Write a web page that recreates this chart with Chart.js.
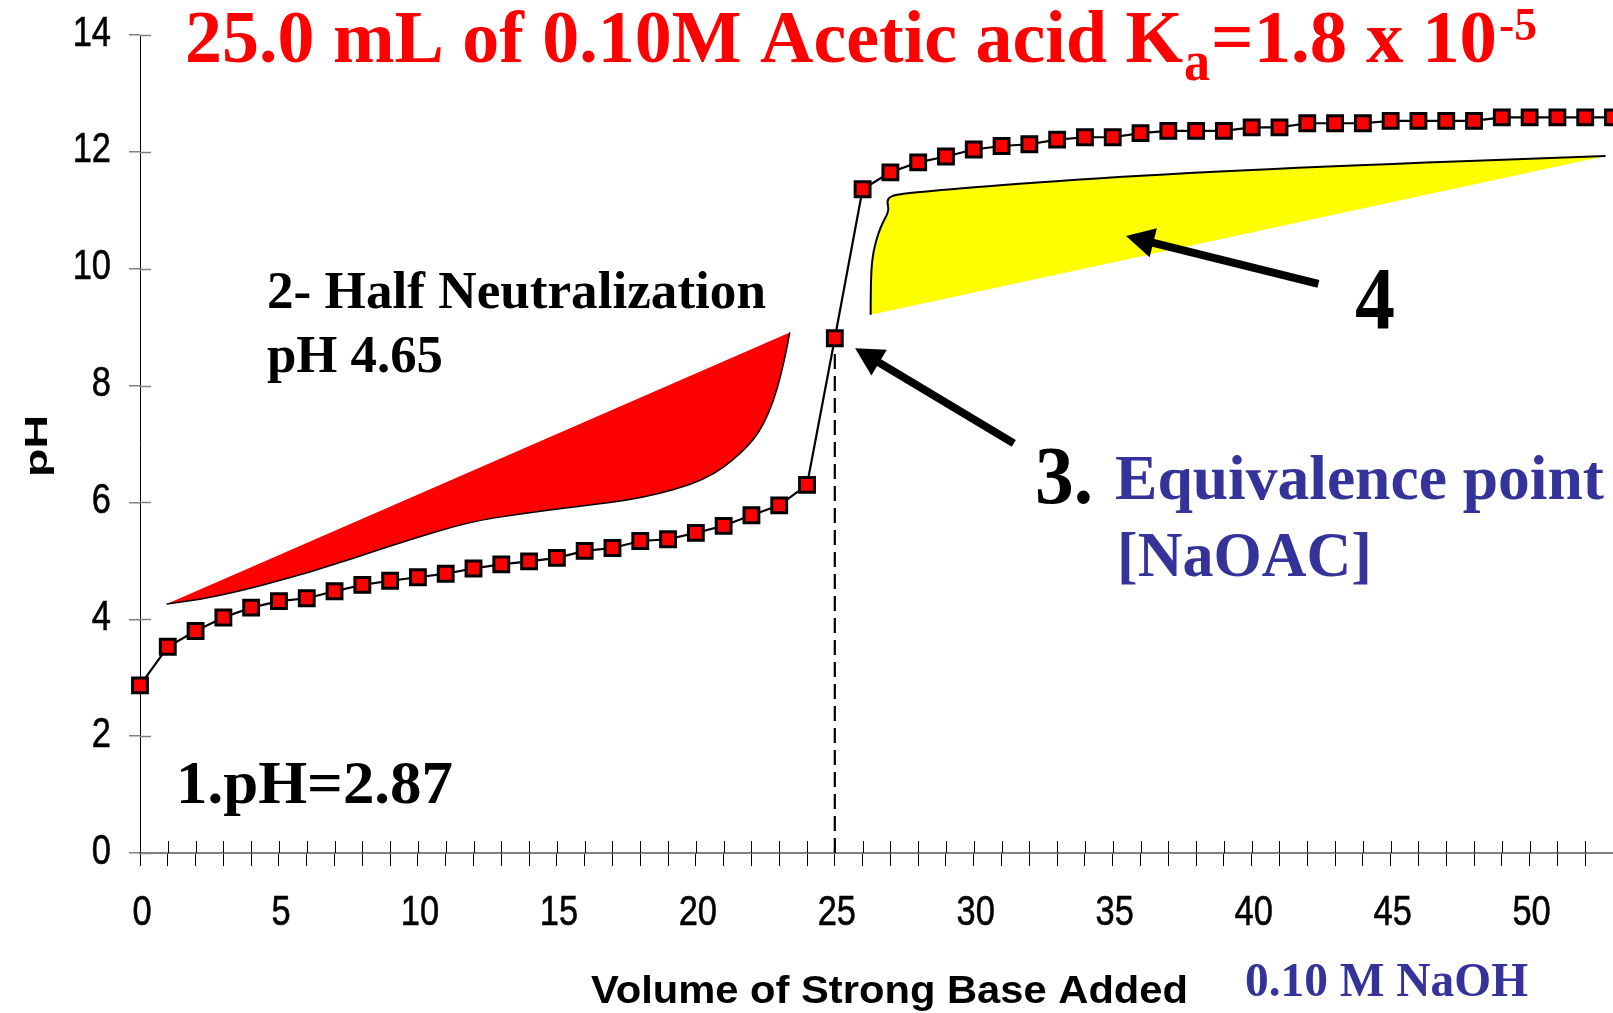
<!DOCTYPE html>
<html>
<head>
<meta charset="utf-8">
<title>Titration of acetic acid with NaOH</title>
<script src="https://cdn.jsdelivr.net/npm/chart.js@4.4.1/dist/chart.umd.min.js"></script>
<style>
  html, body { margin: 0; padding: 0; background: #ffffff; overflow: hidden; }
  canvas { display: block; }
</style>
</head>
<body>
<canvas id="titration" width="1613" height="1013"></canvas>
<script>
// Volume of 0.10 M NaOH added (mL)
const volumes = [0, 1, 2, 3, 4, 5, 6, 7, 8, 9, 10, 11, 12, 13, 14, 15, 16, 17, 18, 19,
  20, 21, 22, 23, 24, 25, 26, 27, 28, 29, 30, 31, 32, 33, 34, 35, 36, 37, 38, 39,
  40, 41, 42, 43, 44, 45, 46, 47, 48, 49, 50, 51, 52, 53];

// Measured pH after each addition
const pH = [2.87, 3.53, 3.80, 4.03, 4.20, 4.31, 4.36, 4.48, 4.59, 4.66,
  4.72, 4.78, 4.87, 4.94, 4.99, 5.05, 5.17, 5.22, 5.34, 5.37,
  5.48, 5.60, 5.78, 5.95, 6.30, 8.81, 11.36, 11.65, 11.82, 11.92,
  12.04, 12.10, 12.13, 12.21, 12.25, 12.25, 12.32, 12.36, 12.36, 12.36,
  12.42, 12.42, 12.49, 12.49, 12.49, 12.53, 12.53, 12.53, 12.53, 12.59,
  12.59, 12.59, 12.59, 12.59];

// Axis tick labels
const xTickLabels = ['0', '5', '10', '15', '20', '25', '30', '35', '40', '45', '50'];
const yTickLabels = ['0', '2', '4', '6', '8', '10', '12', '14'];

// Index of the equivalence point (25.0 mL)
const equivalenceIndex = 25;

const series = volumes.map((v, i) => ({ x: v, y: pH[i] }));
const equivalenceDrop = [
  { x: volumes[equivalenceIndex], y: 0 },
  { x: volumes[equivalenceIndex], y: pH[equivalenceIndex] }
];

// Highlight shapes and pointer arrows, in axis units
const bufferRegionEdge = [[23.38, 8.91], [23.09, 8.15], [22.45, 7.30], [21.65, 6.84], [20.36, 6.38],
  [18.11, 6.07], [15.70, 5.93], [13.78, 5.81], [11.85, 5.67], [9.28, 5.30], [6.07, 4.79],
  [2.85, 4.39], [0.96, 4.26]];
const excessBaseEdge = [[26.29, 9.21], [26.29, 9.76], [26.36, 10.27], [26.64, 10.72], [26.96, 10.99],
  [26.87, 11.15], [26.99, 11.24], [27.49, 11.29], [29.63, 11.38], [34.94, 11.57], [42.39, 11.75],
  [52.73, 11.93]];
const arrowEquivalence = { tail: [31.44, 7.01], tip: [25.73, 8.64] };
const arrowExcess = { tail: [42.40, 9.74], tip: [35.48, 10.56] };

const SERIF = "'Liberation Serif', 'Times New Roman', serif";
const SANS = "'Liberation Sans', Arial, sans-serif";
const BLUE = '#333399';
const RED = '#ff0000';

function fitText(ctx, str, x, y, font, color, width) {
  ctx.save();
  ctx.font = font;
  ctx.fillStyle = color;
  ctx.textAlign = 'left';
  ctx.textBaseline = 'alphabetic';
  const w = ctx.measureText(str).width;
  ctx.translate(x, y);
  ctx.scale(width ? width / w : 1, 1);
  ctx.fillText(str, 0, 0);
  ctx.restore();
}

// condensed tick label, anchored by its alignment point
function tickText(ctx, str, x, y, align) {
  ctx.save();
  ctx.font = `42px ${SANS}`;
  ctx.fillStyle = '#000';
  ctx.strokeStyle = '#000';
  ctx.lineWidth = 0.6;
  ctx.textAlign = align;
  ctx.textBaseline = 'middle';
  ctx.translate(x, y);
  ctx.scale(0.82, 1);
  ctx.fillText(str, 0, 0);
  ctx.strokeText(str, 0, 0);
  ctx.restore();
}

function smoothPath(ctx, pts, startNew) {
  if (startNew) ctx.moveTo(pts[0][0], pts[0][1]); else ctx.lineTo(pts[0][0], pts[0][1]);
  for (let i = 1; i < pts.length - 1; i++) {
    const mx = (pts[i][0] + pts[i + 1][0]) / 2;
    const my = (pts[i][1] + pts[i + 1][1]) / 2;
    ctx.quadraticCurveTo(pts[i][0], pts[i][1], mx, my);
  }
  const last = pts[pts.length - 1];
  ctx.lineTo(last[0], last[1]);
}

function drawArrow(ctx, tail, tip, width, headLen, headHalf) {
  const dx = tip[0] - tail[0], dy = tip[1] - tail[1];
  const len = Math.hypot(dx, dy);
  const ux = dx / len, uy = dy / len;
  const bx = tip[0] - ux * headLen, by = tip[1] - uy * headLen;
  ctx.save();
  ctx.strokeStyle = '#000';
  ctx.fillStyle = '#000';
  ctx.lineWidth = width;
  ctx.lineCap = 'butt';
  ctx.beginPath();
  ctx.moveTo(tail[0], tail[1]);
  ctx.lineTo(bx + ux * 2, by + uy * 2);
  ctx.stroke();
  ctx.beginPath();
  ctx.moveTo(tip[0], tip[1]);
  ctx.lineTo(bx - uy * headHalf, by + ux * headHalf);
  ctx.lineTo(bx + uy * headHalf, by - ux * headHalf);
  ctx.closePath();
  ctx.fill();
  ctx.restore();
}

// Tick marks crossing the axis lines, plus the tick labels
const axisDecor = {
  id: 'axisDecor',
  beforeDatasetsDraw(chart) {
    const { ctx, chartArea, scales: { x, y } } = chart;
    ctx.save();
    ctx.lineWidth = 1;
    ctx.strokeStyle = '#000';
    x.ticks.forEach(t => {
      const px = Math.round(x.getPixelForValue(t.value)) + 0.5;
      ctx.beginPath();
      ctx.moveTo(px, chartArea.bottom);
      ctx.lineTo(px, chartArea.bottom - 12);
      ctx.stroke();
    });
    ctx.strokeStyle = '#808080';
    ctx.lineWidth = 1.5;
    y.ticks.forEach(t => {
      const py = Math.round(y.getPixelForValue(t.value)) + 0.5;
      ctx.beginPath();
      ctx.moveTo(chartArea.left, py);
      ctx.lineTo(chartArea.left + 11, py);
      ctx.stroke();
    });
    ctx.restore();

    xTickLabels.forEach(l => tickText(ctx, l, x.getPixelForValue(Number(l)) + 2, chartArea.bottom + 60, 'center'));
    yTickLabels.forEach(l => tickText(ctx, l, chartArea.left - 29, y.getPixelForValue(Number(l)) - 1, 'right'));
  }
};

// Highlight regions, arrows and labels
const annotations = {
  id: 'annotations',
  afterDatasetsDraw(chart) {
    const { ctx, scales: { x, y } } = chart;
    const P = p => [x.getPixelForValue(p[0]), y.getPixelForValue(p[1])];

    // buffer region wedge
    const red = bufferRegionEdge.map(P);
    ctx.save();
    ctx.beginPath();
    ctx.moveTo(red[red.length - 1][0], red[red.length - 1][1]);
    smoothPath(ctx, red, false);
    ctx.closePath();
    ctx.fillStyle = RED;
    ctx.fill();
    ctx.beginPath();
    smoothPath(ctx, red, true);
    ctx.strokeStyle = '#000';
    ctx.lineWidth = 1.5;
    ctx.stroke();

    // excess base wedge
    const yel = excessBaseEdge.map(P);
    ctx.beginPath();
    smoothPath(ctx, yel, true);
    ctx.lineTo(yel[0][0], yel[0][1]);
    ctx.closePath();
    ctx.fillStyle = '#ffff00';
    ctx.fill();
    ctx.beginPath();
    smoothPath(ctx, yel, true);
    ctx.strokeStyle = '#000';
    ctx.lineWidth = 2;
    ctx.stroke();
    ctx.restore();

    drawArrow(ctx, P(arrowEquivalence.tail), P(arrowEquivalence.tip), 8, 28, 15);
    drawArrow(ctx, P(arrowExcess.tail), P(arrowExcess.tip), 8, 28, 15);

    // title
    fitText(ctx, '25.0 mL of 0.10M Acetic acid K', 185, 62, `bold 73px ${SERIF}`, RED, 998);
    fitText(ctx, 'a', 1184, 80, `bold 56px ${SERIF}`, RED, 26);
    fitText(ctx, '=1.8 x 10', 1211, 62, `bold 73px ${SERIF}`, RED, 286);
    fitText(ctx, '-5', 1499, 40, `bold 47px ${SERIF}`, RED, 38);

    // stage labels
    fitText(ctx, '2- Half Neutralization', 267, 308, `bold 53px ${SERIF}`, '#000', 499);
    fitText(ctx, 'pH 4.65', 267, 372, `bold 53px ${SERIF}`, '#000', 176);
    fitText(ctx, '1.pH=2.87', 176, 803, `bold 62px ${SERIF}`, '#000', 277);
    fitText(ctx, '3.', 1035, 503, `bold 82px ${SERIF}`, '#000', 58);
    fitText(ctx, 'Equivalence point', 1115, 499, `bold 63px ${SERIF}`, BLUE, 489);
    fitText(ctx, '[NaOAC]', 1117, 576, `bold 63px ${SERIF}`, BLUE, 255);
    fitText(ctx, '4', 1355, 328, `bold 88px ${SERIF}`, '#000', 40);

    // axis titles
    fitText(ctx, 'Volume of Strong Base Added', 591, 1003, `bold 39px ${SANS}`, '#000', 597);
    fitText(ctx, '0.10 M NaOH', 1245, 996, `bold 48px ${SERIF}`, BLUE, 283);
    ctx.save();
    ctx.translate(46.5, 477);
    ctx.rotate(-Math.PI / 2);
    fitText(ctx, 'pH', 0, 0, `bold 31px ${SANS}`, '#000', 62);
    ctx.restore();
  }
};

new Chart(document.getElementById('titration'), {
  type: 'line',
  data: {
    datasets: [
      {
        data: series,
        borderColor: '#000000',
        borderWidth: 2.2,
        pointStyle: 'rect',
        pointRadius: 10.5,
        pointBackgroundColor: RED,
        pointBorderColor: '#000000',
        pointBorderWidth: 3,
        tension: 0,
        fill: false,
        clip: false
      },
      {
        data: equivalenceDrop,
        borderColor: '#000000',
        borderWidth: 2.2,
        borderDash: [15, 7],
        pointRadius: 0,
        fill: false
      }
    ]
  },
  options: {
    responsive: false,
    animation: false,
    devicePixelRatio: 1,
    layout: { autoPadding: false, padding: { top: 35, left: 0, right: 0, bottom: 0 } },
    plugins: { legend: { display: false }, tooltip: { enabled: false }, title: { display: false } },
    scales: {
      x: {
        type: 'linear',
        position: 'bottom',
        min: 0,
        max: 53,
        afterFit: s => { s.height = 160; },
        border: { display: true, color: '#808080', width: 2 },
        grid: { display: true, drawOnChartArea: false, drawTicks: true, tickLength: 13, color: '#000000', lineWidth: 1 },
        ticks: { display: false, stepSize: 1, autoSkip: false, maxRotation: 0, minRotation: 0 }
      },
      y: {
        type: 'linear',
        min: 0,
        max: 14,
        afterFit: s => { s.width = 140; },
        border: { display: true, color: '#000000', width: 1 },
        grid: { display: true, drawOnChartArea: false, drawTicks: true, tickLength: 11, color: '#808080', lineWidth: 1.5 },
        ticks: { display: false, stepSize: 2 }
      }
    }
  },
  plugins: [axisDecor, annotations]
});
</script>
</body>
</html>
